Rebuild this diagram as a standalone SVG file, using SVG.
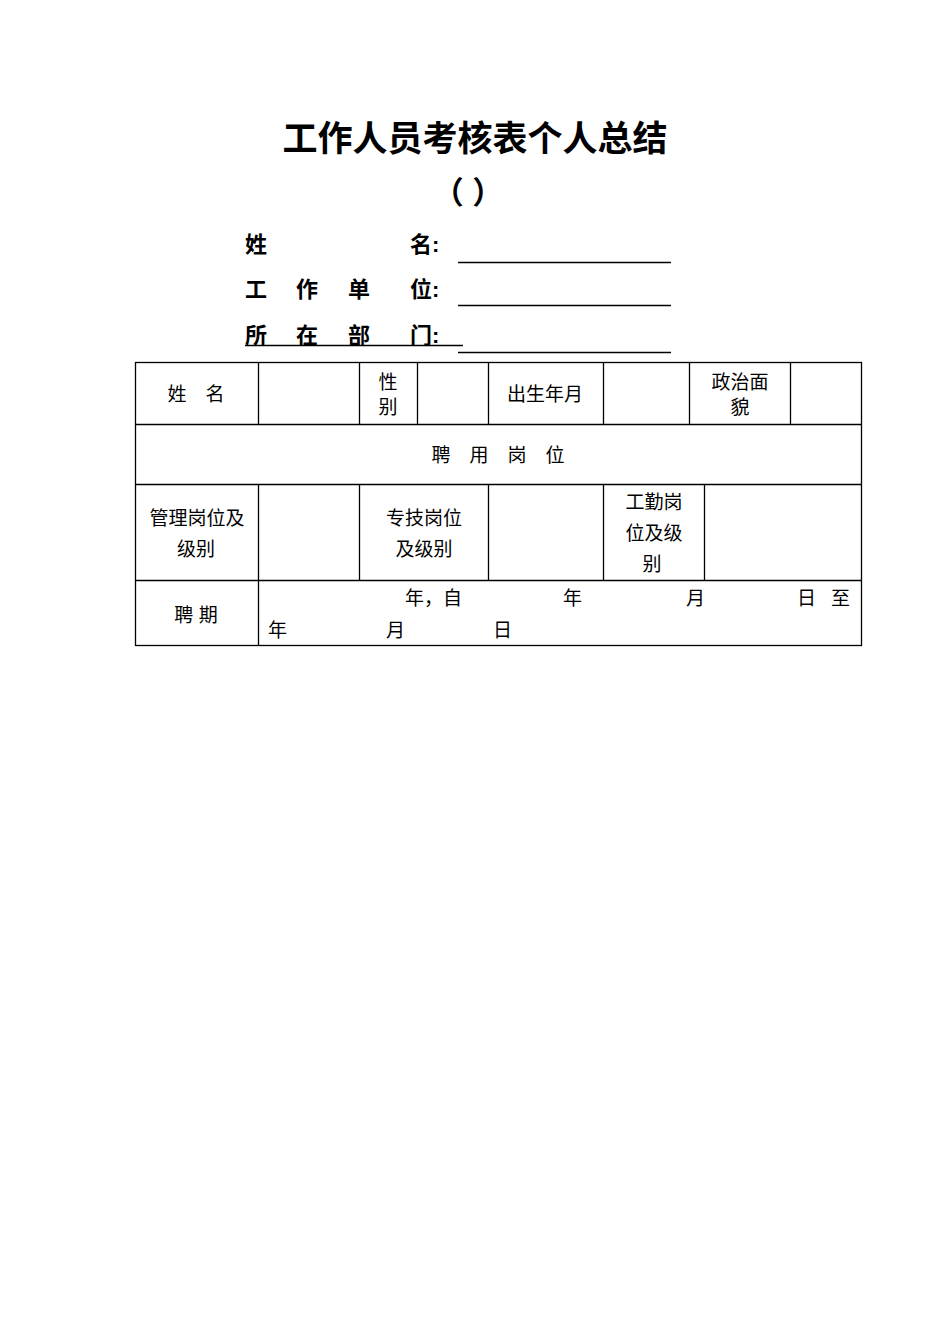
<svg xmlns="http://www.w3.org/2000/svg" width="950" height="1344" viewBox="0 0 950 1344">
<style>
.t{font-family:"Liberation Sans","Noto Sans CJK SC",sans-serif;fill:#000}
.h{font-size:22px;font-weight:bold}
.c{font-size:19px;text-anchor:middle}
.l{font-size:19px}
.ln{stroke:#000;stroke-width:1.3;fill:none}
</style>
<rect width="950" height="1344" fill="#fff"/>
<g id="title">
<text class="t" x="475" y="151" font-size="35" font-weight="bold" text-anchor="middle">工作人员考核表个人总结</text>
<text class="t" x="468" y="203" font-size="31" font-weight="bold" text-anchor="middle">（    ）</text>
</g>
<g id="fields">
<text class="t h" x="245" y="252">姓</text><text class="t h" x="410" y="252">名:</text>
<text class="t h" x="245" y="297">工</text><text class="t h" x="296" y="297">作</text><text class="t h" x="348" y="297">单</text><text class="t h" x="410" y="297">位:</text>
<text class="t h" x="245" y="343">所</text><text class="t h" x="296" y="343">在</text><text class="t h" x="348" y="343">部</text><text class="t h" x="410" y="343">门:</text>
<line class="ln" x1="245" y1="345.5" x2="463" y2="345.5"/>
<line class="ln" x1="458" y1="262.5" x2="671" y2="262.5"/>
<line class="ln" x1="458" y1="305.5" x2="671" y2="305.5"/>
<line class="ln" x1="458" y1="352.5" x2="671" y2="352.5"/>
</g>
<g id="table">
<rect class="ln" x="135.5" y="362.5" width="726" height="283"/>
<path class="ln" d="M135 424.5H861M135 484.5H861M135 580.5H861M258.5 362V424M359.5 362V424M417.5 362V424M488.5 362V424M603.5 362V424M689.5 362V424M790.5 362V424M258.5 484V645M359.5 484V580M488.5 484V580M603.5 484V580M704.5 484V580"/>
<text class="t c" x="196" y="401">姓　名</text>
<text class="t c" x="388" y="389">性</text><text class="t c" x="388" y="414">别</text>
<text class="t c" x="545" y="401">出生年月</text>
<text class="t c" x="740" y="389">政治面</text><text class="t c" x="740" y="414">貌</text>
<text class="t c" x="498" y="462">聘　用　岗　位</text>
<text class="t c" x="197" y="525">管理岗位及</text><text class="t c" x="196" y="556">级别</text>
<text class="t c" x="424" y="525">专技岗位</text><text class="t c" x="424" y="556">及级别</text>
<text class="t c" x="654" y="509">工勤岗</text><text class="t c" x="654" y="540">位及级</text><text class="t c" x="652" y="571">别</text>
<text class="t c" x="196" y="622">聘 期</text>
<text class="t l" x="405" y="605">年，自</text><text class="t l" x="563" y="605">年</text><text class="t l" x="686" y="605">月</text><text class="t l" x="797" y="605">日</text><text class="t l" x="831" y="605">至</text>
<text class="t l" x="268" y="637">年</text><text class="t l" x="386" y="637">月</text><text class="t l" x="493" y="637">日</text>
</g>
</svg>
